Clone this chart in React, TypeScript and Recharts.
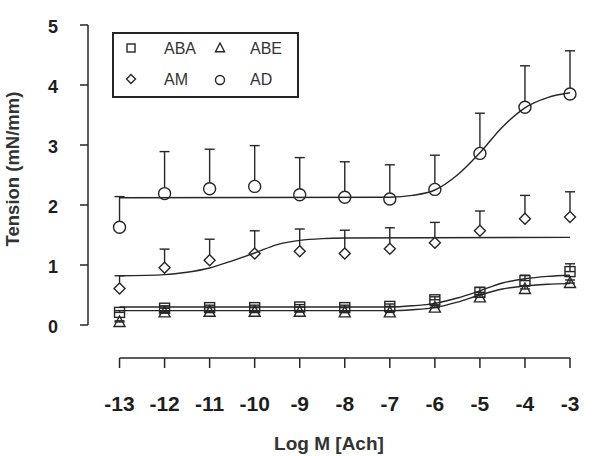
import React from "react";
import {
  ComposedChart,
  Line,
  Scatter,
  XAxis,
  YAxis,
  ErrorBar,
  ReferenceLine,
  Legend,
} from "recharts";

// log molar concentration of acetylcholine
const LOG_ACH = [-13, -12, -11, -10, -9, -8, -7, -6, -5, -4, -3];

// mean tension (mN/mm) and upper error per group
const ABA_MEAN = [0.21, 0.28, 0.29, 0.29, 0.3, 0.29, 0.31, 0.42, 0.545, 0.74, 0.89];
const ABA_ERR = [0.03, 0.04, 0.04, 0.04, 0.04, 0.04, 0.04, 0.05, 0.08, 0.09, 0.13];
const ABE_MEAN = [0.05, 0.21, 0.22, 0.22, 0.22, 0.21, 0.21, 0.29, 0.46, 0.6, 0.7];
const ABE_ERR = [0.02, 0.02, 0.02, 0.02, 0.02, 0.02, 0.02, 0.03, 0.05, 0.05, 0.05];
const AM_MEAN = [0.61, 0.955, 1.08, 1.19, 1.23, 1.19, 1.27, 1.37, 1.57, 1.77, 1.8];
const AM_ERR = [0.21, 0.31, 0.35, 0.38, 0.37, 0.39, 0.35, 0.34, 0.33, 0.39, 0.42];
const AD_MEAN = [1.63, 2.19, 2.27, 2.31, 2.17, 2.13, 2.1, 2.26, 2.86, 3.63, 3.85];
const AD_ERR = [0.51, 0.7, 0.66, 0.68, 0.62, 0.59, 0.57, 0.57, 0.67, 0.69, 0.72];

// fitted curves
const ABA_FIT_X = [-13, -7, -6.5, -6, -5.5, -5, -4.5, -4, -3.5, -3];
const ABA_FIT_Y = [0.3, 0.3, 0.32, 0.36, 0.45, 0.57, 0.7, 0.77, 0.81, 0.83];
const ABE_FIT_X = [-13, -7, -6.5, -6, -5.5, -5, -4.5, -4, -3.5, -3];
const ABE_FIT_Y = [0.24, 0.24, 0.255, 0.29, 0.38, 0.5, 0.6, 0.65, 0.68, 0.69];
const AM_FIT_X = [-13, -12, -11.5, -11, -10.5, -10, -9.5, -9, -8.5, -8, -3];
const AM_FIT_Y = [0.82, 0.84, 0.88, 0.95, 1.07, 1.2, 1.34, 1.41, 1.44, 1.45, 1.46];
const AD_FIT_X = [-13, -7, -6.5, -6, -5.5, -5, -4.5, -4, -3.5, -3];
const AD_FIT_Y = [2.12, 2.13, 2.16, 2.25, 2.5, 2.87, 3.3, 3.62, 3.79, 3.87];

const X_TICKS = [-13, -12, -11, -10, -9, -8, -7, -6, -5, -4, -3];
const Y_TICKS = [0, 1, 2, 3, 4, 5];
const X_DOMAIN = [-13.7, -3];
const Y_DOMAIN = [-0.55, 5];

const FONT = '"Liberation Sans", Arial, sans-serif';
const INK = "#262626";

const points = (ys: number[], errs: number[]) =>
  LOG_ACH.map((x, i) => ({ x, y: ys[i], err: [0, errs[i]] }));
const fit = (xs: number[], ys: number[]) => xs.map((x, i) => ({ x, y: ys[i] }));

const Square = ({ cx, cy, s = 5 }: any) => (
  <rect x={cx - s} y={cy - s} width={2 * s} height={2 * s} fill="none" stroke={INK} strokeWidth={1.4} />
);
const Triangle = ({ cx, cy, s = 5.5 }: any) => (
  <polygon
    points={`${cx},${cy - s - 0.5} ${cx - s},${cy + s * 0.82} ${cx + s},${cy + s * 0.82}`}
    fill="none"
    stroke={INK}
    strokeWidth={1.4}
  />
);
const Diamond = ({ cx, cy, s = 5.5 }: any) => (
  <polygon
    points={`${cx},${cy - s} ${cx + s},${cy} ${cx},${cy + s} ${cx - s},${cy}`}
    fill="white"
    stroke={INK}
    strokeWidth={1.4}
  />
);
const Circle = ({ cx, cy, s = 6 }: any) => (
  <circle cx={cx} cy={cy} r={s} fill="white" stroke={INK} strokeWidth={1.4} />
);

function LegendBox() {
  const txt = { fontFamily: FONT, fontSize: 16, fill: "#333" };
  return (
    <svg width={187} height={66} style={{ display: "block" }}>
      <rect x={1} y={1} width={185} height={64} fill="white" stroke={INK} strokeWidth={2} />
      <Square cx={19} cy={16} s={4} />
      <text x={52} y={21.5} {...txt}>ABA</text>
      <Triangle cx={108} cy={16} s={4.5} />
      <text x={138} y={21.5} {...txt}>ABE</text>
      <Diamond cx={19} cy={47} s={4.5} />
      <text x={52} y={52.5} {...txt}>AM</text>
      <Circle cx={108} cy={48} s={4.5} />
      <text x={138} y={52.5} {...txt}>AD</text>
    </svg>
  );
}

const errBar = (
  <ErrorBar dataKey="err" direction="y" width={5} stroke={INK} strokeWidth={1.4} />
);

export default function App() {
  return (
    <div style={{ position: "absolute", left: 0, top: 0, background: "white" }}>
      <ComposedChart
        width={599}
        height={456}
        margin={{ top: 25, right: 29, bottom: 0, left: 0 }}
      >
        <XAxis
          type="number"
          dataKey="x"
          domain={X_DOMAIN}
          ticks={X_TICKS}
          height={98}
          axisLine={false}
          stroke={INK}
          tickLine={{ strokeWidth: 1.5 }}
          tickSize={10}
          tickMargin={28}
          tick={{ fontSize: 21, fontWeight: 700, fill: "#1e1e1e", fontFamily: FONT }}
          label={({ viewBox }: any) => (
            <text
              x={viewBox.x + viewBox.width / 2}
              y={450}
              textAnchor="middle"
              fontFamily={FONT}
              fontSize={19}
              fontWeight={700}
              fill="#333"
            >
              Log M [Ach]
            </text>
          )}
        />
        <YAxis
          type="number"
          dataKey="y"
          domain={Y_DOMAIN}
          ticks={Y_TICKS}
          width={88}
          axisLine={false}
          stroke={INK}
          tickLine={{ strokeWidth: 1.5 }}
          tickSize={8}
          tickMargin={22}
          tick={{ fontSize: 18, fontWeight: 700, fill: "#1e1e1e", fontFamily: FONT, dy: 2 }}
          label={() => (
            <text
              x={12}
              y={169}
              transform="rotate(-90 12 169)"
              textAnchor="middle"
              dominantBaseline="central"
              fontFamily={FONT}
              fontSize={18.5}
              fontWeight={700}
              fill="#333"
            >
              Tension (mN/mm)
            </text>
          )}
        />
        <ReferenceLine
          segment={[{ x: X_DOMAIN[0], y: 0 }, { x: X_DOMAIN[0], y: 5 }]}
          stroke={INK}
          strokeWidth={1.5}
          ifOverflow="visible"
        />
        <ReferenceLine
          segment={[{ x: -13, y: Y_DOMAIN[0] }, { x: -3, y: Y_DOMAIN[0] }]}
          stroke={INK}
          strokeWidth={1.5}
          ifOverflow="visible"
        />

        <Scatter data={points(ABA_MEAN, ABA_ERR)} shape={(p: any) => <Square cx={p.cx} cy={p.cy} />} isAnimationActive={false}>
          {errBar}
        </Scatter>
        <Scatter data={points(ABE_MEAN, ABE_ERR)} shape={(p: any) => <Triangle cx={p.cx} cy={p.cy} />} isAnimationActive={false}>
          {errBar}
        </Scatter>
        <Scatter data={points(AM_MEAN, AM_ERR)} shape={(p: any) => <Diamond cx={p.cx} cy={p.cy} />} isAnimationActive={false}>
          {errBar}
        </Scatter>
        <Scatter data={points(AD_MEAN, AD_ERR)} shape={(p: any) => <Circle cx={p.cx} cy={p.cy} />} isAnimationActive={false}>
          {errBar}
        </Scatter>

        <Line data={fit(ABA_FIT_X, ABA_FIT_Y)} dataKey="y" type="monotone" stroke={INK} strokeWidth={1.4} dot={false} zIndex={700} isAnimationActive={false} />
        <Line data={fit(ABE_FIT_X, ABE_FIT_Y)} dataKey="y" type="monotone" stroke={INK} strokeWidth={1.4} dot={false} zIndex={700} isAnimationActive={false} />
        <Line data={fit(AM_FIT_X, AM_FIT_Y)} dataKey="y" type="monotone" stroke={INK} strokeWidth={1.4} dot={false} zIndex={700} isAnimationActive={false} />
        <Line data={fit(AD_FIT_X, AD_FIT_Y)} dataKey="y" type="monotone" stroke={INK} strokeWidth={1.4} dot={false} zIndex={700} isAnimationActive={false} />

        <Legend
          layout="horizontal"
          verticalAlign="middle"
          align="center"
          content={() => <LegendBox />}
          wrapperStyle={{ position: "absolute", left: 112, top: 32, width: 187, height: 66 }}
        />
      </ComposedChart>
    </div>
  );
}
